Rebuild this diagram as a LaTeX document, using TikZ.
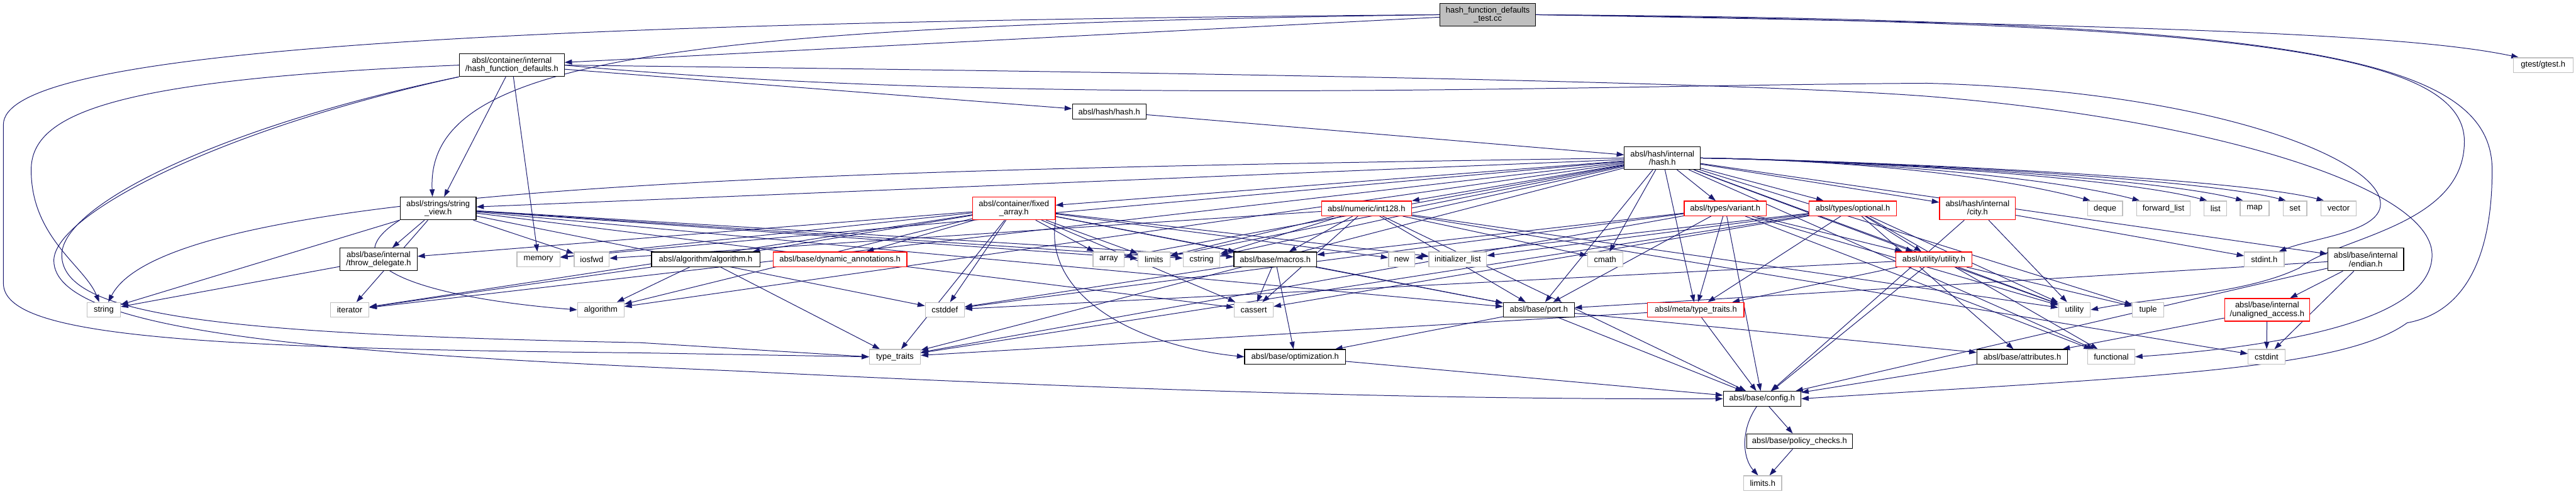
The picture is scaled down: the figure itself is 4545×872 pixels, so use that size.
\documentclass[tikz,border=0pt]{standalone}
\usepackage{fontspec}
\setmainfont{Liberation Sans}
\usetikzlibrary{arrows.meta}
\definecolor{eb}{RGB}{25,25,112}
\definecolor{sysg}{RGB}{191,191,191}
\pgfdeclarelayer{bg}
\pgfsetlayers{bg,main}
\begin{document}
\begin{tikzpicture}[x=1pt,y=-1pt,
  nd/.style={draw, line width=1.3pt, fill=white, inner xsep=4pt, inner ysep=0pt, minimum height=26pt, align=center, font=\fontsize{14.4}{15}\selectfont},
  doc/.style={nd, draw=black},
  sys/.style={nd, draw=sysg},
  trunc/.style={nd, draw=red},
  two/.style={minimum height=40pt},
  wd/.style={minimum width=#1pt},
  e/.style={draw=eb, line width=1.1pt, -{Triangle[length=13pt,width=9pt]}}
]
\useasboundingbox (0,0) rectangle (4545,872);
% row 0
\node[doc,two,fill=sysg,wd=169] (tc) at (2625,26) {hash\_function\_defaults\\\_test.cc};
\node[doc,two,wd=185] (hfd) at (903,115) {absl/container/internal\\/hash\_function\_defaults.h};
\node[sys,wd=105] (gtest) at (4487,115) {gtest/gtest.h};
\node[doc,wd=130] (hashh) at (1957,197) {absl/hash/hash.h};
\node[doc,two,wd=134] (ihash) at (2933,279) {absl/hash/internal\\/hash.h};
% row 368
\node[doc,two,wd=134] (sv) at (773,368) {absl/strings/string\\\_view.h};
\node[trunc,two,wd=146] (fa) at (1789,368) {absl/container/fixed\\\_array.h};
\node[trunc,wd=159] (i128) at (2411,368) {absl/numeric/int128.h};
\node[trunc,wd=145] (variant) at (3044,368) {absl/types/variant.h};
\node[trunc,wd=154] (optional) at (3269,368) {absl/types/optional.h};
\node[trunc,two,wd=134] (city) at (3489,368) {absl/hash/internal\\/city.h};
\node[sys,wd=62] (deque) at (3714,368) {deque};
\node[sys,wd=94] (fwdlist) at (3817,368) {forward\_list};
\node[sys,wd=40] (list) at (3909,368) {list};
\node[sys,wd=51] (map) at (3978,368) {map};
\node[sys,wd=42] (set) at (4049,368) {set};
\node[sys,wd=62] (vector) at (4126,368) {vector};
% row 458
\node[doc,two,wd=136] (throw) at (668,458) {absl/base/internal\\/throw\_delegate.h};
\node[sys,wd=76] (memory) at (950,458) {memory};
\node[sys,wd=62] (iosfwd) at (1044,458) {iosfwd};
\node[doc,wd=191] (algoh) at (1245,458) {absl/algorithm/algorithm.h};
\node[trunc,wd=236] (dynann) at (1482,458) {absl/base/dynamic\_annotations.h};
\node[sys,wd=55] (array) at (1956,458) {array};
\node[sys,wd=56] (limits) at (2036,458) {limits};
\node[sys,wd=65] (cstring) at (2120,458) {cstring};
\node[doc,wd=146] (macros) at (2250,458) {absl/base/macros.h};
\node[sys,wd=46] (new) at (2473,458) {new};
\node[sys,wd=102] (initlist) at (2572,458) {initializer\_list};
\node[sys,wd=62] (cmath) at (2832,458) {cmath};
\node[trunc,wd=134] (utilh) at (3412,458) {absl/utility/utility.h};
\node[sys,wd=70] (stdinth) at (3995,458) {stdint.h};
\node[doc,two,wd=134] (endian) at (4174,458) {absl/base/internal\\/endian.h};
% row 547
\node[sys,wd=59] (string) at (183,547) {string};
\node[sys,wd=68] (iterator) at (617,547) {iterator};
\node[sys,wd=82] (algorithm) at (1060,547) {algorithm};
\node[sys,wd=69] (cstddef) at (1667,547) {cstddef};
\node[sys,wd=69] (cassert) at (2212,547) {cassert};
\node[doc,wd=125] (port) at (2715,547) {absl/base/port.h};
\node[trunc,wd=170] (meta) at (2992,547) {absl/meta/type\_traits.h};
\node[sys,wd=56] (utility) at (3660,547) {utility};
\node[sys,wd=55] (tuple) at (3790,547) {tuple};
\node[trunc,two,wd=150] (unaligned) at (4000,547) {absl/base/internal\\/unaligned\_access.h};
% row 630
\node[sys,wd=90] (tt) at (1579,630) {type\_traits};
\node[doc,wd=178] (optim) at (2285,630) {absl/base/optimization.h};
\node[doc,wd=160] (attrs) at (3568,630) {absl/base/attributes.h};
\node[sys,wd=83] (functional) at (3725,630) {functional};
\node[sys,wd=65] (cstdint) at (3999,630) {cstdint};
% bottom
\node[doc,wd=137] (config) at (3109,704) {absl/base/config.h};
\node[doc,wd=186] (policy) at (3175,779) {absl/base/policy\_checks.h};
\node[sys,wd=67] (limitsh) at (3110,853) {limits.h};

\begin{pgfonlayer}{bg}
\fill[white] (0,0) rectangle (4545,872);
% test.cc
\draw[e] (tc) -- (hfd);
\draw[e] (tc.west) .. controls (1150,45) and (752,110) .. ([xshift=-10pt]sv.north);
\draw[e] (tc.west) .. controls (700,40) and (6,100) .. (6,220) -- (6,500) .. controls (6,590) and (300,615) .. (1130,623) -- (tt.west);
\draw[e] (tc.east) .. controls (3800,45) and (4250,60) .. ([xshift=10pt]gtest.north west);
\draw[e] (tc.east) .. controls (3950,40) and (4348,90) .. (4348,250) .. controls (4348,400) and (4120,420) .. (4057,473) .. controls (3960,520) and (3800,525) .. (utility.east);
\draw[e] (tc.east) .. controls (4050,35) and (4397,100) .. (4397,300) .. controls (4397,520) and (4300,560) .. (4247,570) .. controls (4150,640) and (3900,660) .. (3400,690) -- (config.east);
% hfd
\draw[e] (hfd) -- (hashh);
\draw[e] (hfd) -- (sv);
\draw[e] (hfd) -- (memory);
\draw[e] (hfd.west) .. controls (200,140) and (55,200) .. (55,300) .. controls (55,420) and (150,470) .. ([xshift=-8pt]string.north);
\draw[e] (hfd.south west) .. controls (400,220) and (109,360) .. (109,450) .. controls (109,560) and (400,590) .. (1130,605) -- (tt.west);
\draw[e] (hfd.south west) .. controls (380,230) and (95,380) .. (95,460) .. controls (95,590) and (600,625) .. (1300,655) .. controls (2200,700) and (2700,705) .. (config.west);
\draw[e] (hfd.east) .. controls (1800,125) and (3000,140) .. (3400,170) .. controls (3900,210) and (4291,330) .. (4291,450) .. controls (4291,560) and (4050,610) .. (functional.east);
\draw[e] (hfd.east) .. controls (1800,190) and (2800,150) .. (3400,147) .. controls (3900,160) and (4200,280) .. (4200,360) .. controls (4200,410) and (4080,420) .. ([xshift=-10pt]stdinth.north east);
% hash.h
\draw[e] (hashh) -- (ihash);
% internal hash.h
\foreach \n in {deque,fwdlist,list,map,set,vector}
  \draw[e] (ihash.east) .. controls +(300,5) and +(-150,-40) .. ([xshift=6pt]\n.north west);
\draw[e] (ihash.west) .. controls (1500,300) and (300,320) .. ([xshift=8pt]string.north);
\foreach \n in {sv,fa,i128,variant,optional,city,array,limits,cstring,cmath,memory,iterator,algorithm,functional,tuple,utility,tt,endian,port,meta,utilh}
  \draw[e] (ihash) -- (\n);
% string_view
\foreach \n in {throw,iosfwd,cstring,limits,cassert,cstddef,macros,port,string,iterator}
  \draw[e] (sv) -- (\n);
\draw[e] (sv.south west) .. controls (560,480) and (800,530) .. (algorithm.west);
\draw[e] (throw) -- (string);
% fixed_array
\foreach \n in {throw,memory,algoh,dynann,array,limits,macros,new,initlist,cstddef,cassert,tt,port,algorithm,iterator}
  \draw[e] (fa) -- (\n);
\draw[e] (fa.south east) .. controls (1840,520) and (2000,610) .. (optim.west);
\foreach \n in {iterator,algorithm,tt}
  \draw[e] (algoh) -- (\n);
% int128
\foreach \n in {iosfwd,limits,cstring,macros,cmath,cassert,port,config,utility,cstdint}
  \draw[e] (i128) -- (\n);
% macros
\foreach \n in {cassert,cstddef,optim,port}
  \draw[e] (macros) -- (\n);
% variant
\foreach \n in {macros,port,meta,utilh,config,cstddef,tt,utility,functional}
  \draw[e] (variant) -- (\n);
% optional
\foreach \n in {new,initlist,cassert,meta,utilh,tt,utility,functional,attrs}
  \draw[e] (optional) -- (\n);
% city
\foreach \n in {stdinth,utility,config}
  \draw[e] (city) -- (\n);
% utility.h
\foreach \n in {meta,cstddef,utility,tuple,config}
  \draw[e] (utilh) -- (\n);
% meta
\foreach \n in {tt,config}
  \draw[e] (meta) -- (\n);
% port
\foreach \n in {attrs,config,optim}
  \draw[e] (port) -- (\n);
\draw[e] (optim) -- (config);
\draw[e] (attrs) -- (config);
% endian
\foreach \n in {unaligned,cstdint,config,port}
  \draw[e] (endian) -- (\n);
\foreach \n in {cstdint,attrs}
  \draw[e] (unaligned) -- (\n);
% config
\draw[e] (config) -- (policy);
\draw[e] (config) .. controls (3070,760) and (3075,810) .. ([xshift=-8pt]limitsh.north);
\draw[e] (policy) -- (limitsh);
\end{pgfonlayer}
\end{tikzpicture}
\end{document}
